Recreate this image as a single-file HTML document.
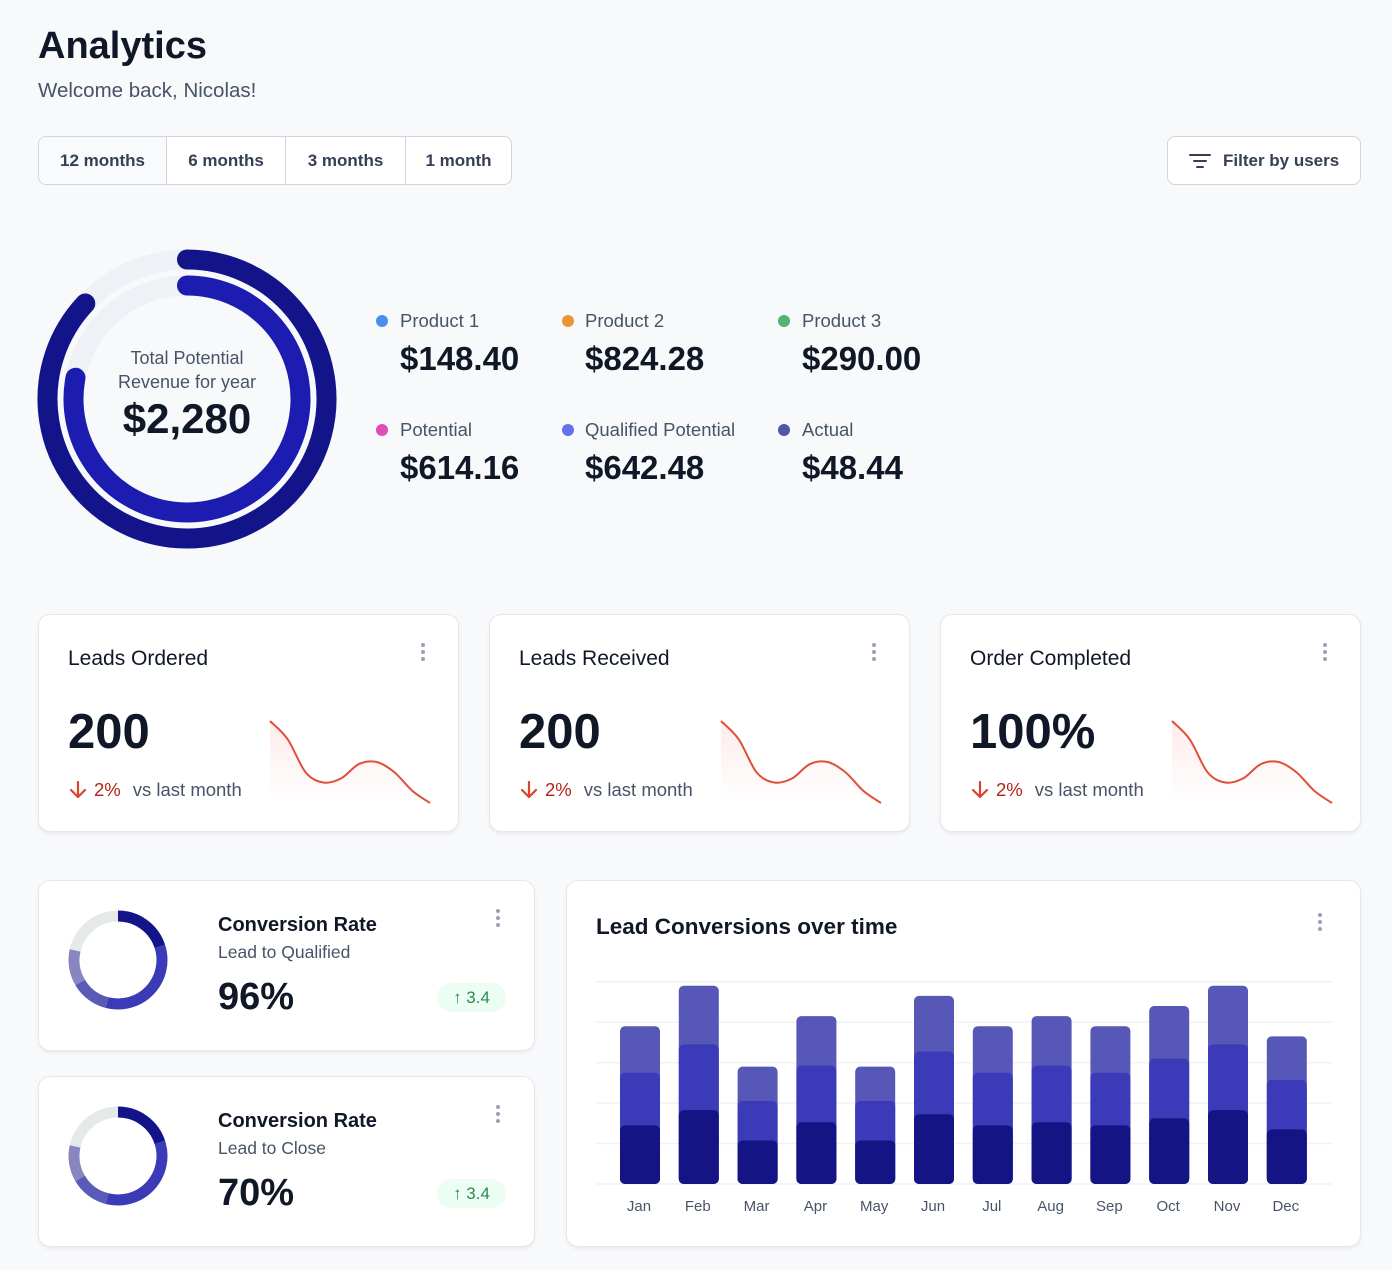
<!DOCTYPE html>
<html><head><meta charset="utf-8"><style>
*{box-sizing:border-box;margin:0;padding:0}
body{width:1392px;height:1270px;background:#f8f9fb;font-family:"Liberation Sans",sans-serif;color:#101828;position:relative;overflow:hidden}
.abs{position:absolute}
.card{position:absolute;background:#fff;border:1px solid #e4e7ec;border-radius:12px;box-shadow:0 2px 3px rgba(16,24,40,.06)}
.dots{position:absolute;width:4px}
.dots i{display:block;width:4px;height:4px;border-radius:2px;background:#98a2b3;margin-bottom:3px}
.lbl{position:absolute;font-size:18.5px;color:#475467}
.val{position:absolute;font-size:33px;font-weight:bold;color:#101828}
.dot{position:absolute;width:12px;height:12px;border-radius:6px}
</style></head><body>
<div class="abs" style="left:38px;top:25px;font-size:38px;font-weight:bold">Analytics</div>
<div class="abs" style="left:38px;top:79px;font-size:20.5px;color:#475467">Welcome back, Nicolas!</div>

<div class="abs" style="left:38px;top:136px;width:474px;height:49px;border:1px solid #d0d5dd;border-radius:8px;background:#fff;display:flex;overflow:hidden;font-size:17px;font-weight:bold;color:#344054">
<div style="width:128px;background:#f9fafb;border-right:1px solid #d0d5dd;display:flex;align-items:center;justify-content:center">12 months</div>
<div style="width:119px;border-right:1px solid #d0d5dd;display:flex;align-items:center;justify-content:center">6 months</div>
<div style="width:120px;border-right:1px solid #d0d5dd;display:flex;align-items:center;justify-content:center">3 months</div>
<div style="flex:1;display:flex;align-items:center;justify-content:center">1 month</div>
</div>
<div class="abs" style="left:1167px;top:136px;width:194px;height:49px;border:1px solid #d0d5dd;border-radius:8px;background:#fff;font-size:17px;font-weight:bold;color:#344054;display:flex;align-items:center;padding-left:21px">
<svg width="22" height="16" style="margin-right:12px"><path d="M1 2h20M5 8h12M8 14h6" stroke="#344054" stroke-width="2" stroke-linecap="round"/></svg>Filter by users</div>

<svg class="abs" style="left:0;top:230px" width="360" height="340" id="bigDonut"></svg>
<div class="abs" style="left:75px;top:346px;width:224px;text-align:center;font-size:18px;color:#475467;line-height:24px">Total Potential<br>Revenue for year</div>
<div class="abs" style="left:75px;top:395px;width:224px;text-align:center;font-size:42px;font-weight:bold">$2,280</div>

<div>
<div class="dot" style="left:376px;top:315px;background:#4a8ff0"></div>
<div class="lbl" style="left:400px;top:310px">Product 1</div>
<div class="val" style="left:400px;top:340px">$148.40</div>
<div class="dot" style="left:562px;top:315px;background:#ea9634"></div>
<div class="lbl" style="left:585px;top:310px">Product 2</div>
<div class="val" style="left:585px;top:340px">$824.28</div>
<div class="dot" style="left:778px;top:315px;background:#4fb56f"></div>
<div class="lbl" style="left:802px;top:310px">Product 3</div>
<div class="val" style="left:802px;top:340px">$290.00</div>
<div class="dot" style="left:376px;top:424px;background:#dc4fb7"></div>
<div class="lbl" style="left:400px;top:419px">Potential</div>
<div class="val" style="left:400px;top:449px">$614.16</div>
<div class="dot" style="left:562px;top:424px;background:#6471ec"></div>
<div class="lbl" style="left:585px;top:419px">Qualified Potential</div>
<div class="val" style="left:585px;top:449px">$642.48</div>
<div class="dot" style="left:778px;top:424px;background:#4e57a3"></div>
<div class="lbl" style="left:802px;top:419px">Actual</div>
<div class="val" style="left:802px;top:449px">$48.44</div>
</div>

<div id="statCards"></div>

<div class="card" style="left:38px;top:880px;width:497px;height:171px">
<svg class="abs cdonut" style="left:22px;top:22px" width="114" height="114"></svg>
<div class="abs" style="left:179px;top:33px;font-size:20px;font-weight:bold">Conversion Rate</div>
<div class="abs" style="left:179px;top:61px;font-size:17.5px;color:#475467">Lead to Qualified</div>
<div class="abs" style="left:179px;top:95px;font-size:38px;font-weight:bold">96%</div>
<div class="abs" style="left:398px;top:102px;width:69px;height:29px;border-radius:15px;background:#ecfdf3;color:#2f8a4f;font-size:17px;display:flex;align-items:center;justify-content:center">↑ 3.4</div>
<div class="dots" style="left:457px;top:28px"><i></i><i></i><i></i></div>
</div>
<div class="card" style="left:38px;top:1076px;width:497px;height:171px">
<svg class="abs cdonut" style="left:22px;top:22px" width="114" height="114"></svg>
<div class="abs" style="left:179px;top:33px;font-size:20px;font-weight:bold">Conversion Rate</div>
<div class="abs" style="left:179px;top:61px;font-size:17.5px;color:#475467">Lead to Close</div>
<div class="abs" style="left:179px;top:95px;font-size:38px;font-weight:bold">70%</div>
<div class="abs" style="left:398px;top:102px;width:69px;height:29px;border-radius:15px;background:#ecfdf3;color:#2f8a4f;font-size:17px;display:flex;align-items:center;justify-content:center">↑ 3.4</div>
<div class="dots" style="left:457px;top:28px"><i></i><i></i><i></i></div>
</div>

<div class="card" style="left:566px;top:880px;width:795px;height:367px">
<div class="abs" style="left:29px;top:33px;font-size:22.5px;font-weight:bold">Lead Conversions over time</div>
<div class="dots" style="left:751px;top:32px"><i></i><i></i><i></i></div>
</div>
<svg class="abs" id="barChart" style="left:566px;top:960px" width="795" height="270"></svg>

<script>
// ---------- big donut data ----------
const ringLabels = ['outer', 'inner'];
const ringFractions = [0.87, 0.78];

// ---------- stat cards ----------
const statTitles = ['Leads Ordered', 'Leads Received', 'Order Completed'];
const statValues = ['200', '200', '100%'];
const statChanges = ['2%', '2%', '2%'];
const sparkValues = [80, 62, 30, 20, 24, 38, 40, 30, 12, 0];

// ---------- conversion donuts ----------
const convSegments = [0.20, 0.34, 0.125, 0.12];

// ---------- bar chart ----------
const months = ['Jan','Feb','Mar','Apr','May','Jun','Jul','Aug','Sep','Oct','Nov','Dec'];
const seriesActual = [58,73,43,61,43,69,58,61,58,65,73,54];
const seriesQualified = [52,65,39,56,39,62,52,56,52,59,65,49];
const seriesPotential = [46,58,34,49,34,55,46,49,46,52,58,43];
const yTicks = [0,40,80,120,160,200];

const NS='http://www.w3.org/2000/svg';
function mk(tag, attrs, parent){const e=document.createElementNS(NS,tag);for(const k in attrs)e.setAttribute(k,attrs[k]);parent.appendChild(e);return e;}
function arcPath(cx,cy,r,a0,a1){const p=a=>[cx+r*Math.sin(a*2*Math.PI),cy-r*Math.cos(a*2*Math.PI)];const[s0,s1]=p(a0),[e0,e1]=p(a1);const large=(a1-a0)>0.5?1:0;return `M${s0} ${s1}A${r} ${r} 0 ${large} 1 ${e0} ${e1}`;}

// big donut
(function(){
  const svg=document.getElementById('bigDonut');const cx=187,cy=169;
  const radii=[139.5,113.5], colors=['#14148a','#1c1cb0'];
  ringLabels.forEach((n,i)=>{
    const bg=mk('circle',{cx:cx,cy:cy,r:radii[i],fill:'none',stroke:'#eef1f6','stroke-width':20},svg);
    
    
  });
  ringLabels.forEach((n,i)=>{
    const a=mk('path',{d:arcPath(cx,cy,radii[i],0,ringFractions[i]),fill:'none',stroke:colors[i],'stroke-width':20,'stroke-linecap':'round'},svg);
    
    
  });
})();

// stat cards
(function(){
  const host=document.getElementById('statCards');
  const lefts=[38,489,940];
  statTitles.forEach((t,i)=>{
    const c=document.createElement('div');c.className='card';
    
    
    c.style.cssText=`left:${lefts[i]}px;top:614px;width:421px;height:218px`;
    c.innerHTML=`<div class="abs" style="left:29px;top:32px;font-size:21px">${t}</div>
<div class="abs" style="left:29px;top:89px;font-size:49px;font-weight:bold">${statValues[i]}</div>
<div class="abs" style="left:29px;top:164px;font-size:18.5px;color:#b42318;display:flex;align-items:center"><svg width="20" height="20" style="margin-right:6px"><path d="M10 2v15M3 10l7 7 7-7" stroke="#d9432f" stroke-width="2.2" fill="none" stroke-linecap="round" stroke-linejoin="round"/></svg>${statChanges[i]}<span style="color:#475467;margin-left:12px">vs last month</span></div>
<div class="dots" style="left:382px;top:28px"><i></i><i></i><i></i></div>`;
    const svg=document.createElementNS(NS,'svg');svg.setAttribute('width',170);svg.setAttribute('height',100);
    svg.setAttribute('class','abs');svg.style.left='229px';svg.style.top='100px';
    
    
    const x0=2,x1=162,y0=88,y1=6,n=sparkValues.length;
    const X=j=>x0+(x1-x0)*j/(n-1), Y=v=>y0-(y0-y1)*v/80;
    const pts=sparkValues.map((v,j)=>[X(j),Y(v)]);
    let d=`M${pts[0][0]} ${pts[0][1]}`;
    for(let j=0;j<n-1;j++){const p0=pts[Math.max(0,j-1)],p1=pts[j],p2=pts[j+1],p3=pts[Math.min(n-1,j+2)];
      d+=`C${p1[0]+(p2[0]-p0[0])/6} ${p1[1]+(p2[1]-p0[1])/6} ${p2[0]-(p3[0]-p1[0])/6} ${p2[1]-(p3[1]-p1[1])/6} ${p2[0]} ${p2[1]}`;}
    const defs=mk('defs',{},svg);const g=mk('linearGradient',{id:'sg'+i,x1:0,y1:0,x2:0,y2:1},defs);
    mk('stop',{offset:0,'stop-color':'#f04438','stop-opacity':0.1},g);mk('stop',{offset:1,'stop-color':'#f04438','stop-opacity':0},g);
    const area=mk('path',{d:d+`L${x1} ${y0}L${x0} ${y0}Z`,fill:`url(#sg${i})`},svg);
    
    
    const line=mk('path',{d:d,fill:'none',stroke:'#e04f3a','stroke-width':2},svg);
    
    
    c.appendChild(svg);host.appendChild(c);
  });
})();

// conversion donuts
(function(){
  const colors=['#14148a','#3b3bb8','#5a5ab8','#8886c0'];
  document.querySelectorAll('.cdonut').forEach(svg=>{
    const cx=57,cy=57,r=44;
    const bg=mk('circle',{cx:cx,cy:cy,r:r,fill:'none',stroke:'#e6e9ea','stroke-width':11},svg);
    
    
    let a=0;
    convSegments.forEach((f,i)=>{
      const p=mk('path',{d:arcPath(cx,cy,r,a,a+f),fill:'none',stroke:colors[i],'stroke-width':11},svg);
      
      
      a+=f;
    });
  });
})();

// bar chart
(function(){
  const svg=document.getElementById('barChart');
  const left=30,right=766,base=224,top=21.7,ymax=200;
  const y=v=>base-(base-top)*v/ymax;
  const step=58.8, bw=40, firstX=54;
  const x=i=>firstX+i*step;
  yTicks.forEach(t=>{const l=mk('line',{x1:left,x2:right,y1:y(t),y2:y(t),stroke:'#f0f2f5','stroke-width':1.5},svg);
    
    });
  const series=[seriesActual,seriesQualified,seriesPotential], cols=['#141485','#3b3ab8','#5757b8'], names=['actual','qualified','potential'];
  months.forEach((m,i)=>{
    let acc=0;
    const stack=[];
    series.forEach((s,k)=>{stack.push([acc,acc+s[i]]);acc+=s[i];});
    for(let k=series.length-1;k>=0;k--){
      const [a,b]=stack[k];
      const r=mk('rect',{x:x(i),y:y(b),width:bw,height:y(0)-y(b),rx:5,fill:cols[k]},svg);
      
      
    }
    const tx=mk('text',{x:x(i)+bw/2-1,y:251,'text-anchor':'middle','font-size':15,fill:'#475467','font-family':'Liberation Sans, sans-serif'},svg);
    tx.textContent=m;
    
    
  });
})();
</script>
</body></html>
